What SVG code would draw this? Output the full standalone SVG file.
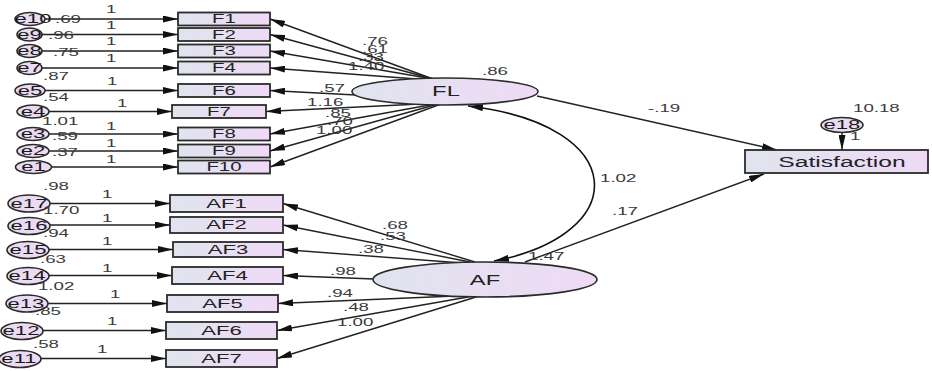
<svg xmlns="http://www.w3.org/2000/svg" width="932" height="371" viewBox="0 0 932 371">
<defs>
<linearGradient id="g" x1="0" y1="0" x2="1" y2="0">
<stop offset="0" stop-color="#e0e4ee"/>
<stop offset="1" stop-color="#efdaf6"/>
</linearGradient>
<linearGradient id="ge" x1="0" y1="0" x2="1" y2="0">
<stop offset="0" stop-color="#e6dcf0"/>
<stop offset="1" stop-color="#eedaf4"/>
</linearGradient>
<marker id="ah" markerUnits="userSpaceOnUse" markerWidth="15" markerHeight="7" refX="15" refY="3.5" orient="auto-start-reverse">
<path d="M0,0 L15,3.5 L0,7 z" fill="#111"/>
</marker>
</defs>
<style>
.box{fill:url(#g);stroke:#2b2b2b;stroke-width:1.8}
.lat{fill:url(#g);stroke:#2b2b2b;stroke-width:1.6}
.err{fill:url(#ge);stroke:#2b2b2b;stroke-width:1.6}
text{font-family:"Liberation Sans",Arial,sans-serif;transform:scaleX(1.7)}
.lbl{font-size:12px;fill:#222;text-anchor:middle}
.albl{font-size:13px;fill:#222;text-anchor:middle}
.big{font-size:14px;fill:#222;text-anchor:middle}
.elbl{font-size:13px;fill:#1a1a1a;text-anchor:middle}
.num{font-size:11px;fill:#3a3a3a}
.ln{stroke:#222;stroke-width:1.4;fill:none;marker-end:url(#ah)}
.cv{stroke:#111;stroke-width:1.6;fill:none;marker-end:url(#ah);marker-start:url(#ah)}
</style>

<g id="connectors">
<line class="ln" x1="45" y1="19" x2="178" y2="19"/>
<line class="ln" x1="42" y1="34.5" x2="178" y2="34.5"/>
<line class="ln" x1="42" y1="51" x2="178" y2="51"/>
<line class="ln" x1="42" y1="68" x2="178" y2="68"/>
<line class="ln" x1="45" y1="90.5" x2="178" y2="90.5"/>
<line class="ln" x1="49" y1="111.5" x2="172" y2="111.5"/>
<line class="ln" x1="49" y1="134" x2="178" y2="134"/>
<line class="ln" x1="49" y1="151" x2="178" y2="151"/>
<line class="ln" x1="51.5" y1="167" x2="178" y2="167"/>
<line class="ln" x1="50" y1="203.5" x2="170" y2="203.5"/>
<line class="ln" x1="50" y1="225" x2="170" y2="225"/>
<line class="ln" x1="49" y1="249.5" x2="173" y2="249.5"/>
<line class="ln" x1="49" y1="275.5" x2="172" y2="275.5"/>
<line class="ln" x1="48" y1="303.5" x2="167" y2="303.5"/>
<line class="ln" x1="43" y1="330.5" x2="166" y2="330.5"/>
<line class="ln" x1="41" y1="358.5" x2="166" y2="358.5"/>
<line class="ln" x1="433" y1="79" x2="270" y2="19"/>
<line class="ln" x1="433" y1="79" x2="270" y2="34.5"/>
<line class="ln" x1="433" y1="79" x2="270" y2="51"/>
<line class="ln" x1="430" y1="80" x2="270" y2="68"/>
<line class="ln" x1="356" y1="95" x2="270" y2="90.5"/>
<line class="ln" x1="420" y1="104" x2="266" y2="111.5"/>
<line class="ln" x1="435" y1="104" x2="270" y2="134"/>
<line class="ln" x1="438" y1="104" x2="270" y2="151"/>
<line class="ln" x1="441" y1="104" x2="270" y2="167"/>
<line class="ln" x1="475" y1="262" x2="283" y2="203.5"/>
<line class="ln" x1="470" y1="262" x2="283" y2="225"/>
<line class="ln" x1="462" y1="263" x2="283" y2="249.5"/>
<line class="ln" x1="374" y1="279" x2="283" y2="275.5"/>
<line class="ln" x1="455" y1="296" x2="278" y2="303.5"/>
<line class="ln" x1="468" y1="297" x2="277" y2="330.5"/>
<line class="ln" x1="476" y1="297" x2="277" y2="358.5"/>
<line class="ln" x1="537" y1="96" x2="777" y2="150"/>
<line class="ln" x1="525" y1="262" x2="764" y2="174"/>
<line class="ln" x1="842" y1="132" x2="842" y2="150"/>
<path class="cv" d="M468,106 C632,125 632,235 494,261"/>
</g>

<g id="e10"><ellipse class="err" cx="30" cy="19" rx="15" ry="6.5"/><text class="elbl" x="19.41" y="23.5">e10</text></g>
<g id="e9"><ellipse class="err" cx="29.5" cy="34.5" rx="12.5" ry="6.5"/><text class="elbl" x="17.35" y="39">e9</text></g>
<g id="e8"><ellipse class="err" cx="29.5" cy="51" rx="12.5" ry="6.5"/><text class="elbl" x="17.35" y="55.5">e8</text></g>
<g id="e7"><ellipse class="err" cx="29.5" cy="68" rx="12.5" ry="6.5"/><text class="elbl" x="17.35" y="72.5">e7</text></g>
<g id="e5"><ellipse class="err" cx="30" cy="90.5" rx="15" ry="6.5"/><text class="elbl" x="17.65" y="95">e5</text></g>
<g id="e4"><ellipse class="err" cx="33" cy="111.5" rx="16" ry="6.5"/><text class="elbl" x="19.41" y="116">e4</text></g>
<g id="e3"><ellipse class="err" cx="33" cy="134" rx="16" ry="6.5"/><text class="elbl" x="19.41" y="138.5">e3</text></g>
<g id="e2"><ellipse class="err" cx="33" cy="151" rx="16" ry="6.5"/><text class="elbl" x="19.41" y="155.5">e2</text></g>
<g id="e1"><ellipse class="err" cx="33.5" cy="167" rx="18" ry="6.5"/><text class="elbl" x="19.71" y="171.5">e1</text></g>

<g id="e17"><ellipse class="err" cx="29" cy="203.5" rx="21" ry="8.5"/><text class="elbl" x="17.06" y="208">e17</text></g>
<g id="e16"><ellipse class="err" cx="29" cy="226" rx="21" ry="8.5"/><text class="elbl" x="17.06" y="230.5">e16</text></g>
<g id="e15"><ellipse class="err" cx="28" cy="250" rx="21" ry="8.5"/><text class="elbl" x="16.47" y="254.5">e15</text></g>
<g id="e14"><ellipse class="err" cx="28" cy="276" rx="21" ry="8.5"/><text class="elbl" x="15.88" y="280.5">e14</text></g>
<g id="e13"><ellipse class="err" cx="27" cy="303.5" rx="21" ry="8.5"/><text class="elbl" x="15.29" y="308">e13</text></g>
<g id="e12"><ellipse class="err" cx="22" cy="331" rx="21" ry="8.5"/><text class="elbl" x="12.35" y="335.5">e12</text></g>
<g id="e11"><ellipse class="err" cx="20" cy="359" rx="21" ry="8.5"/><text class="elbl" x="11.18" y="363.5">e11</text></g>
<g id="e18"><ellipse class="err" cx="842" cy="125" rx="21" ry="7.5"/><text class="elbl" x="495.29" y="129.5">e18</text></g>

<g id="F1"><rect class="box" x="178" y="12.5" width="92" height="13"/><text class="lbl" x="131.76" y="23.5">F1</text></g>
<g id="F2"><rect class="box" x="178" y="28" width="92" height="13"/><text class="lbl" x="131.76" y="39">F2</text></g>
<g id="F3"><rect class="box" x="178" y="44.5" width="92" height="13"/><text class="lbl" x="131.76" y="55.5">F3</text></g>
<g id="F4"><rect class="box" x="178" y="61.5" width="92" height="13"/><text class="lbl" x="131.76" y="72.5">F4</text></g>
<g id="F6"><rect class="box" x="178" y="84" width="92" height="13"/><text class="lbl" x="131.76" y="95">F6</text></g>
<g id="F7"><rect class="box" x="172" y="105" width="94" height="13"/><text class="lbl" x="128.82" y="116">F7</text></g>
<g id="F8"><rect class="box" x="178" y="127.5" width="92" height="13"/><text class="lbl" x="131.76" y="138.5">F8</text></g>
<g id="F9"><rect class="box" x="178" y="144.5" width="92" height="13"/><text class="lbl" x="131.76" y="155.5">F9</text></g>
<g id="F10"><rect class="box" x="178" y="160.5" width="92" height="13"/><text class="lbl" x="131.76" y="171.5">F10</text></g>

<g id="AF1"><rect class="box" x="170" y="195" width="113" height="17"/><text class="albl" x="133.24" y="208">AF1</text></g>
<g id="AF2"><rect class="box" x="170" y="217" width="113" height="16"/><text class="albl" x="133.24" y="229.5">AF2</text></g>
<g id="AF3"><rect class="box" x="173" y="242" width="110" height="15"/><text class="albl" x="134.12" y="254">AF3</text></g>
<g id="AF4"><rect class="box" x="172" y="267" width="111" height="17"/><text class="albl" x="133.82" y="280">AF4</text></g>
<g id="AF5"><rect class="box" x="167" y="295" width="111" height="17"/><text class="albl" x="130.88" y="308">AF5</text></g>
<g id="AF6"><rect class="box" x="166" y="322" width="111" height="17"/><text class="albl" x="130.29" y="335">AF6</text></g>
<g id="AF7"><rect class="box" x="166" y="350" width="111" height="17"/><text class="albl" x="130.29" y="363">AF7</text></g>

<g id="FL"><ellipse class="lat" cx="445" cy="91.5" rx="93" ry="13.5"/><text class="big" x="262.35" y="96.5">FL</text></g>
<g id="AF"><ellipse class="lat" cx="485" cy="279.5" rx="112" ry="17.5"/><text class="big" x="285.29" y="285">AF</text></g>
<g id="Satisfaction"><rect class="box" x="745" y="150" width="183" height="23"/><text class="big" x="495.29" y="167" style="font-size:14.5px">Satisfaction</text></g>

<g id="labels">
<text class="num" x="62.35" y="13">1</text>
<text class="num" x="62.35" y="29">1</text>
<text class="num" x="62.35" y="45">1</text>
<text class="num" x="62.35" y="62">1</text>
<text class="num" x="62.94" y="85">1</text>
<text class="num" x="68.82" y="107">1</text>
<text class="num" x="62.35" y="130">1</text>
<text class="num" x="62.35" y="147">1</text>
<text class="num" x="62.35" y="163">1</text>
<text class="num" x="60" y="198">1</text>
<text class="num" x="60" y="222">1</text>
<text class="num" x="60" y="245">1</text>
<text class="num" x="60" y="272">1</text>
<text class="num" x="64.71" y="298">1</text>
<text class="num" x="62.94" y="325">1</text>
<text class="num" x="57.06" y="353">1</text>
<text class="num" x="500" y="140">1</text>
<text class="num" x="32.35" y="23">.69</text>
<text class="num" x="28.24" y="39">.96</text>
<text class="num" x="31.18" y="56">.75</text>
<text class="num" x="25.29" y="80">.87</text>
<text class="num" x="25.29" y="101">.54</text>
<text class="num" x="24.71" y="125">1.01</text>
<text class="num" x="30.59" y="140">.59</text>
<text class="num" x="30.59" y="156">.37</text>
<text class="num" x="25.29" y="190">.98</text>
<text class="num" x="25.29" y="214">1.70</text>
<text class="num" x="25.29" y="237">.94</text>
<text class="num" x="23.53" y="263">.63</text>
<text class="num" x="22.35" y="290">1.02</text>
<text class="num" x="20.59" y="315">.85</text>
<text class="num" x="19.41" y="348">.58</text>
<text class="num" x="501.76" y="112">10.18</text>
<text class="num" x="283.53" y="75">.86</text>
<text class="num" x="310.59" y="260">1.47</text>
<text class="num" x="212.94" y="45">.76</text>
<text class="num" x="212.94" y="53.5">.61</text>
<text class="num" x="210.59" y="61">.33</text>
<text class="num" x="204.71" y="70">1.40</text>
<text class="num" x="187.65" y="92">.57</text>
<text class="num" x="180.59" y="106">1.16</text>
<text class="num" x="191.18" y="117">.85</text>
<text class="num" x="192.35" y="125">.70</text>
<text class="num" x="185.88" y="134">1.00</text>
<text class="num" x="224.71" y="229">.68</text>
<text class="num" x="223.53" y="240">.53</text>
<text class="num" x="210.59" y="253">.38</text>
<text class="num" x="194.12" y="275">.98</text>
<text class="num" x="192.35" y="297">.94</text>
<text class="num" x="201.76" y="311">.48</text>
<text class="num" x="198.24" y="326">1.00</text>
<text class="num" x="381.18" y="112">-.19</text>
<text class="num" x="352.94" y="182">1.02</text>
<text class="num" x="360" y="215">.17</text>
</g>
</svg>
